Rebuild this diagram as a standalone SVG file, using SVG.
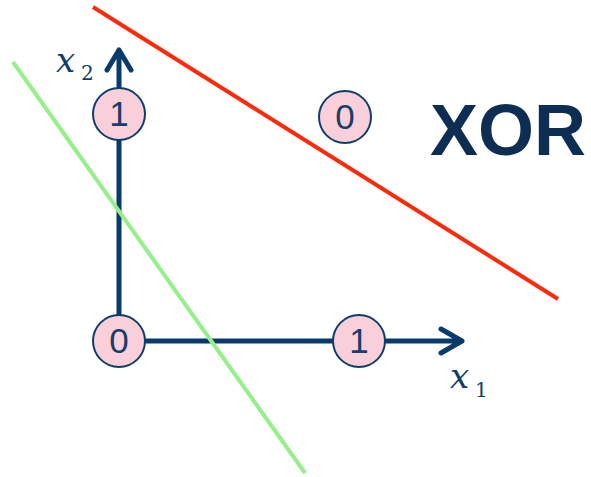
<svg xmlns="http://www.w3.org/2000/svg" width="591" height="477" viewBox="0 0 591 477">
<style>
.axis{stroke:#083a6c;stroke-width:5;fill:none;stroke-linecap:round;stroke-linejoin:round}
.pt circle{fill:#f9d0d9;stroke:#0f3d6b;stroke-width:2}
.pt text{font-family:"Liberation Sans",Arial,sans-serif;font-size:35px;fill:#1a3d6a;text-anchor:middle}
.lbl{font-family:"DejaVu Serif","Liberation Serif",serif;fill:#0f3d6b}
.it{font-style:italic}
</style>
<rect width="591" height="477" fill="#fff"/>
<g id="connectors">
<path class="axis" d="M119 341 V50 M107 70 L119 50 L131 70"/>
<path class="axis" d="M119 341 H462 M441 329 L462 341 L441 353"/>
<line x1="93" y1="7" x2="558" y2="299" stroke="#ff2a0a" stroke-width="4"/>
<line x1="13" y1="62" x2="305" y2="473" stroke="#95f08a" stroke-width="4"/>
</g>
<g id="p01" class="pt"><circle cx="119" cy="114" r="26"/><text x="119" y="126">1</text></g>
<g id="p11" class="pt"><circle cx="345" cy="117" r="26"/><text x="345" y="129">0</text></g>
<g id="p00" class="pt"><circle cx="119" cy="341" r="26"/><text x="119" y="353">0</text></g>
<g id="p10" class="pt"><circle cx="359" cy="341" r="26"/><text x="359" y="353">1</text></g>
<g id="x2label"><text class="lbl it" x="56" y="72" font-size="34">x</text><text class="lbl" x="81" y="80" font-size="20">2</text></g>
<g id="x1label"><text class="lbl it" x="450" y="388" font-size="34">x</text><text class="lbl" x="475" y="397" font-size="20">1</text></g>
<g id="title"><text x="430" y="155" font-family="'Liberation Sans',Arial,sans-serif" font-weight="bold" font-size="72" fill="#0d2d52">XOR</text></g>
</svg>
